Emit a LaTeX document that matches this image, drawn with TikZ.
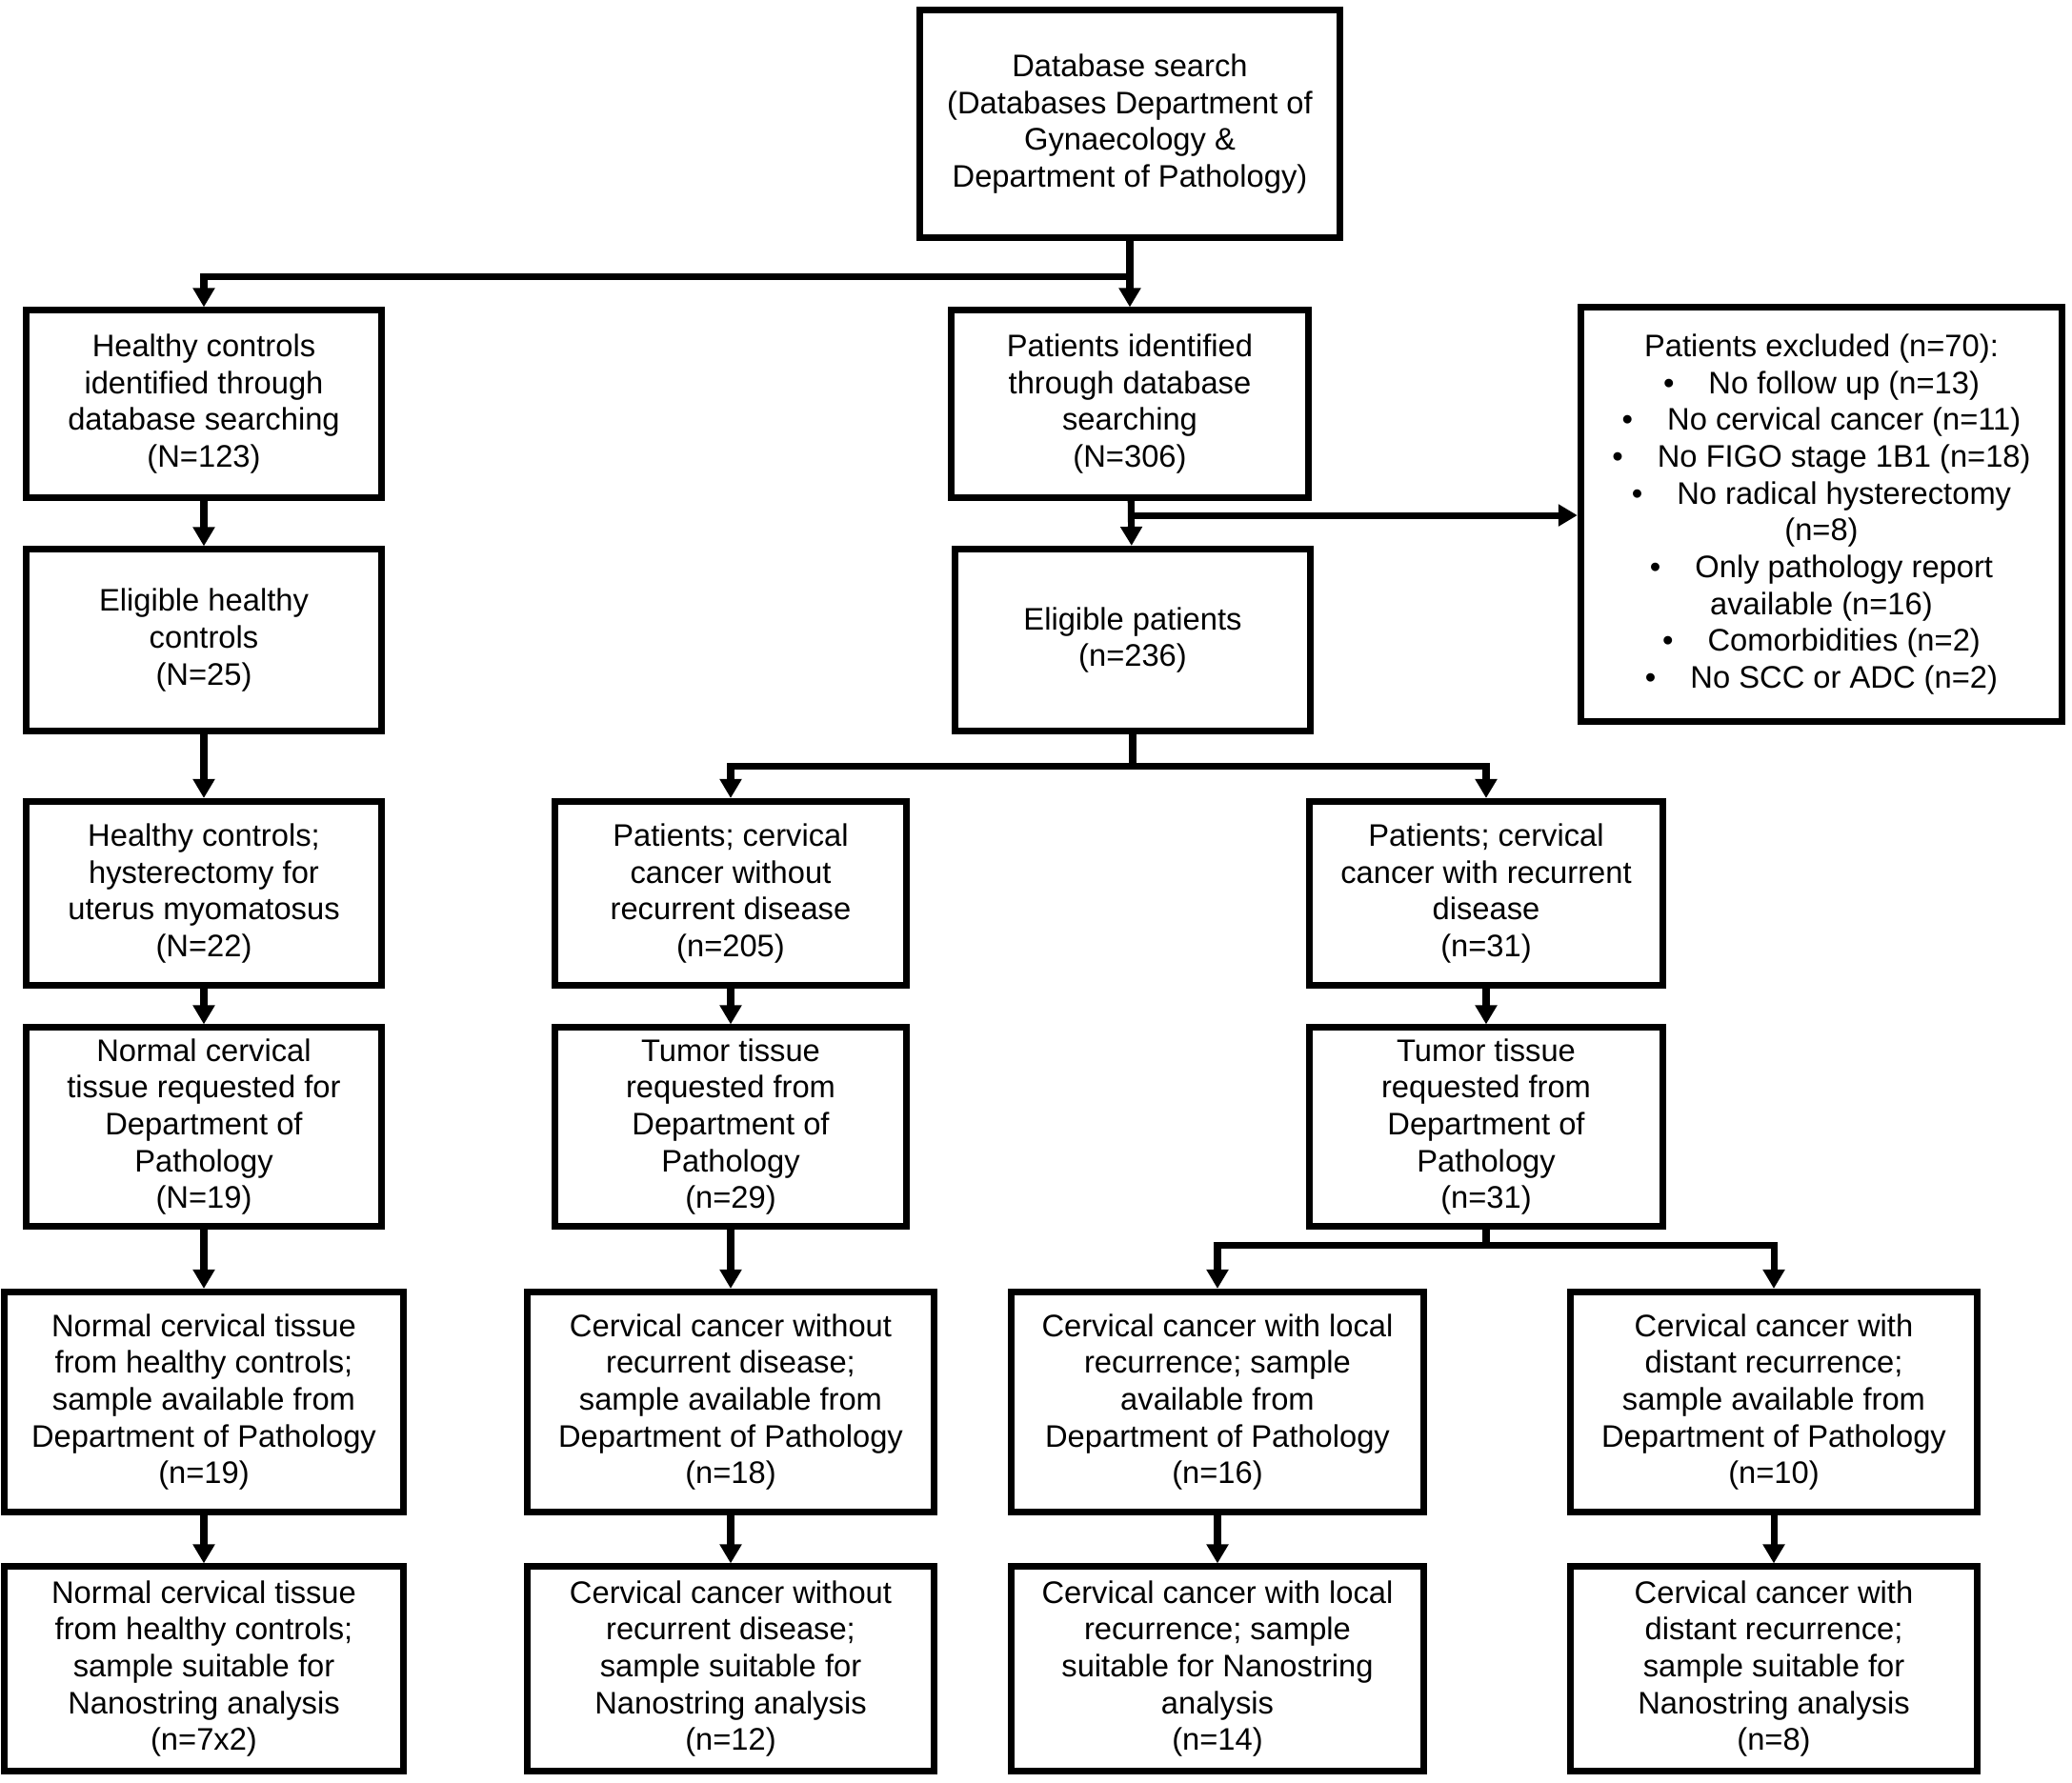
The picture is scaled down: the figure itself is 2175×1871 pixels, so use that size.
\documentclass[tikz,border=0pt]{standalone}
\usepackage{fontspec}
\setmainfont{Liberation Sans}
\usetikzlibrary{arrows.meta}
\newcommand{\itm}{•\hspace{0.36cm}}
\begin{document}
\begin{tikzpicture}[x=0.01cm, y=-0.01cm, line width=2pt, >={Triangle[width=0.22cm,length=0.2cm]},
    box/.style={draw, align=center, inner sep=0pt, font=\fontsize{9.3}{11}\selectfont}]
    \useasboundingbox (0,0) rectangle (2175,1871);
    % top
    \node[box, minimum width=4.40cm, minimum height=2.39cm] (search) at (1186,130) {Database search\\(Databases Department of\\Gynaecology \&\\Department of Pathology)};
    % left column
    \node[box, minimum width=3.72cm, minimum height=1.96cm] (hc) at (214,424) {Healthy controls\\identified through\\database searching\\(N=123)};
    \node[box, minimum width=3.72cm, minimum height=1.90cm] (ehc) at (214,672) {Eligible healthy\\controls\\(N=25)};
    \node[box, minimum width=3.72cm, minimum height=1.93cm] (hch) at (214,938) {Healthy controls;\\hysterectomy for\\uterus myomatosus\\(N=22)};
    \node[box, minimum width=3.72cm, minimum height=2.08cm] (nct) at (214,1183) {Normal cervical\\tissue requested for\\Department of\\Pathology\\(N=19)};
    \node[box, minimum width=4.18cm, minimum height=2.31cm] (ncsa) at (214,1472) {Normal cervical tissue\\from healthy controls;\\sample available from\\Department of Pathology\\(n=19)};
    \node[box, minimum width=4.18cm, minimum height=2.14cm] (ncss) at (214,1752) {Normal cervical tissue\\from healthy controls;\\sample suitable for\\Nanostring analysis\\(n=7x2)};
    % patients
    \node[box, minimum width=3.74cm, minimum height=1.96cm] (pid) at (1186,424) {Patients identified\\through database\\searching\\(N=306)};
    \node[box, minimum width=5.05cm, minimum height=4.35cm] (excl) at (1912,540) {Patients excluded (n=70):\\\itm No follow up (n=13)\\\itm No cervical cancer (n=11)\\\itm No FIGO stage 1B1 (n=18)\\\itm No radical hysterectomy\\(n=8)\\\itm Only pathology report\\available (n=16)\\\itm Comorbidities (n=2)\\\itm No SCC or ADC (n=2)};
    \node[box, minimum width=3.72cm, minimum height=1.91cm] (ep) at (1189,672) {Eligible patients\\(n=236)};
    % without recurrence
    \node[box, minimum width=3.68cm, minimum height=1.93cm] (pwo) at (767,938) {Patients; cervical\\cancer without\\recurrent disease\\(n=205)};
    \node[box, minimum width=3.68cm, minimum height=2.08cm] (ttwo) at (767,1183) {Tumor tissue\\requested from\\Department of\\Pathology\\(n=29)};
    \node[box, minimum width=4.27cm, minimum height=2.31cm] (ccwo) at (767,1472) {Cervical cancer without\\recurrent disease;\\sample available from\\Department of Pathology\\(n=18)};
    \node[box, minimum width=4.27cm, minimum height=2.14cm] (ccwos) at (767,1752) {Cervical cancer without\\recurrent disease;\\sample suitable for\\Nanostring analysis\\(n=12)};
    % with recurrence
    \node[box, minimum width=3.70cm, minimum height=1.93cm] (pw) at (1560,938) {Patients; cervical\\cancer with recurrent\\disease\\(n=31)};
    \node[box, minimum width=3.70cm, minimum height=2.08cm] (ttw) at (1560,1183) {Tumor tissue\\requested from\\Department of\\Pathology\\(n=31)};
    \node[box, minimum width=4.32cm, minimum height=2.31cm] (loc) at (1278,1472) {Cervical cancer with local\\recurrence; sample\\available from\\Department of Pathology\\(n=16)};
    \node[box, minimum width=4.32cm, minimum height=2.14cm] (locs) at (1278,1752) {Cervical cancer with local\\recurrence; sample\\suitable for Nanostring\\analysis\\(n=14)};
    \node[box, minimum width=4.27cm, minimum height=2.31cm] (dist) at (1862,1472) {Cervical cancer with\\distant recurrence;\\sample available from\\Department of Pathology\\(n=10)};
    \node[box, minimum width=4.27cm, minimum height=2.14cm] (dists) at (1862,1752) {Cervical cancer with\\distant recurrence;\\sample suitable for\\Nanostring analysis\\(n=8)};
    % junctions
    \coordinate (s1) at (1186,290);
    \coordinate (p1) at (1186,541);
    \coordinate (e1) at (1189,804);
    \coordinate (t1) at (1560,1307);
    % connectors
    \draw[->] (search.south) -- (pid.north);
    \draw[->] (s1) -| (hc.north);
    \draw[->] (hc) -- (ehc);
    \draw[->] (ehc) -- (hch);
    \draw[->] (hch) -- (nct);
    \draw[->] (nct) -- (ncsa);
    \draw[->] (ncsa) -- (ncss);
    \draw[->] (pid) -- (ep);
    \draw[->] (p1) -- (p1 -| excl.west);
    \draw (ep.south) -- (e1);
    \draw[->] (e1) -| (pwo.north);
    \draw[->] (e1) -| (pw.north);
    \draw[->] (pwo) -- (ttwo);
    \draw[->] (ttwo) -- (ccwo);
    \draw[->] (ccwo) -- (ccwos);
    \draw[->] (pw) -- (ttw);
    \draw (ttw.south) -- (t1);
    \draw[->] (t1) -| (loc.north);
    \draw[->] (t1) -| (dist.north);
    \draw[->] (loc) -- (locs);
    \draw[->] (dist) -- (dists);
\end{tikzpicture}
\end{document}
